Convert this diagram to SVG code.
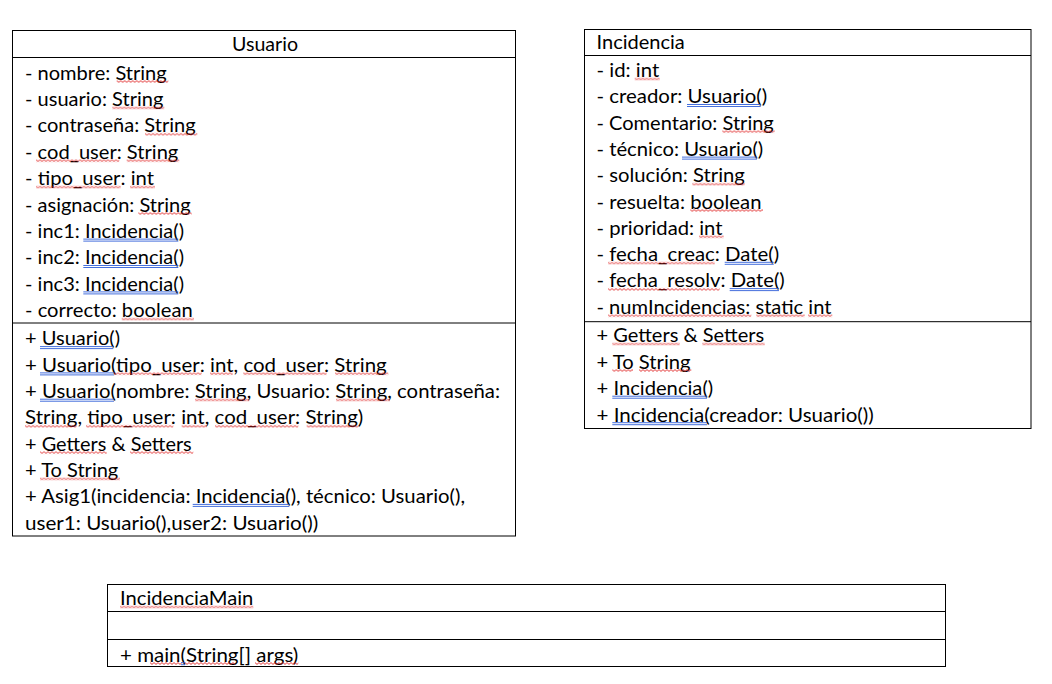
<svg xmlns="http://www.w3.org/2000/svg" width="1052" height="684" viewBox="0 0 1052 684">
<style>
text{font-family:Lato,"Liberation Sans",sans-serif;font-size:20px;fill:#000;lengthAdjust:spacingAndGlyphs}
.box{fill:#fff;stroke:#000;stroke-width:1}
.div{stroke:#000;stroke-width:1}
.sq{fill:url(#wave)}
.bl{fill:url(#dbl)}
</style>
<defs>
<pattern id="wave" patternUnits="userSpaceOnUse" width="4" height="3">
<path d="M0,0.6 L2,2.4 L4,0.6" fill="none" stroke="#e02424" stroke-width="0.9"/>
</pattern>
<pattern id="dbl" patternUnits="userSpaceOnUse" width="4" height="3">
<rect x="0" y="0" width="4" height="0.9" fill="#2f5fd8"/>
<rect x="0" y="2" width="4" height="0.9" fill="#2f5fd8"/>
</pattern>
</defs>
<rect width="1052" height="684" fill="#fff"/>
<g id="connectors"/>

<g id="usuario">
<rect class="box" x="12.5" y="30.5" width="503" height="505.5"/>
<line class="div" x1="12.5" y1="57.5" x2="515.5" y2="57.5"/>
<line class="div" x1="12.5" y1="323" x2="515.5" y2="323"/>
<text x="265" y="51.3" text-anchor="middle" textLength="66" lengthAdjust="spacingAndGlyphs">Usuario</text>
<text x="25" y="79.5" textLength="141.7" lengthAdjust="spacingAndGlyphs">- nombre: String</text>
<text x="25" y="105.9" textLength="138.3" lengthAdjust="spacingAndGlyphs">- usuario: String</text>
<text x="25" y="132.3" textLength="170.7" lengthAdjust="spacingAndGlyphs">- contraseña: String</text>
<text x="25" y="158.7" textLength="153.3" lengthAdjust="spacingAndGlyphs">- cod_user: String</text>
<text x="25" y="185.1" textLength="129" lengthAdjust="spacingAndGlyphs">- tipo_user: int</text>
<text x="25" y="211.5" textLength="165.7" lengthAdjust="spacingAndGlyphs">- asignación: String</text>
<text x="25" y="237.9" textLength="159" lengthAdjust="spacingAndGlyphs">- inc1: Incidencia()</text>
<text x="25" y="264.3" textLength="159" lengthAdjust="spacingAndGlyphs">- inc2: Incidencia()</text>
<text x="25" y="290.7" textLength="159" lengthAdjust="spacingAndGlyphs">- inc3: Incidencia()</text>
<text x="25" y="317.1" textLength="167.7" lengthAdjust="spacingAndGlyphs">- correcto: boolean</text>
<text x="25" y="345.4" textLength="95" lengthAdjust="spacingAndGlyphs">+ Usuario()</text>
<text x="25" y="371.7" textLength="361.7" lengthAdjust="spacingAndGlyphs">+ Usuario(tipo_user: int, cod_user: String</text>
<text x="25" y="398" textLength="475" lengthAdjust="spacingAndGlyphs">+ Usuario(nombre: String, Usuario: String, contraseña:</text>
<text x="25" y="424.3" textLength="338.3" lengthAdjust="spacingAndGlyphs">String, tipo_user: int, cod_user: String)</text>
<text x="25" y="450.6" textLength="166.7" lengthAdjust="spacingAndGlyphs">+ Getters &amp; Setters</text>
<text x="25" y="476.9" textLength="93.3" lengthAdjust="spacingAndGlyphs">+ To String</text>
<text x="25" y="503.2" textLength="440" lengthAdjust="spacingAndGlyphs">+ Asig1(incidencia: Incidencia(), técnico: Usuario(),</text>
<text x="25" y="529.5" textLength="293.3" lengthAdjust="spacingAndGlyphs">user1: Usuario(),user2: Usuario())</text>
<g id="usuario-marks">
<rect class="sq" transform="translate(116.7,80)" width="51.6" height="3"/>
<rect class="sq" transform="translate(112.3,106.4)" width="52" height="3"/>
<rect class="sq" transform="translate(145,132.8)" width="52.3" height="3"/>
<rect class="sq" transform="translate(36,159.2)" width="83.3" height="3"/>
<rect class="sq" transform="translate(126.7,159.2)" width="52.6" height="3"/>
<rect class="sq" transform="translate(36,185.6)" width="84.7" height="3"/>
<rect class="sq" transform="translate(130,185.6)" width="25" height="3"/>
<rect class="sq" transform="translate(138.3,212)" width="53.4" height="3"/>
<rect class="bl" transform="translate(83.3,238.6)" width="95" height="3"/>
<rect class="bl" transform="translate(83.3,265)" width="95" height="3"/>
<rect class="bl" transform="translate(83.3,291.4)" width="95" height="3"/>
<rect class="sq" transform="translate(121.7,317.6)" width="72.3" height="3"/>
<rect class="bl" transform="translate(40,346.1)" width="73.3" height="3"/>
<rect class="bl" transform="translate(40,372.4)" width="74" height="3"/>
<rect class="sq" transform="translate(114,372.2)" width="87.7" height="3"/>
<rect class="sq" transform="translate(210,372.2)" width="22.7" height="3"/>
<rect class="sq" transform="translate(243.3,372.2)" width="83.4" height="3"/>
<rect class="sq" transform="translate(335,372.2)" width="53.3" height="3"/>
<rect class="bl" transform="translate(40,398.7)" width="74" height="3"/>
<rect class="sq" transform="translate(195,398.5)" width="54.3" height="3"/>
<rect class="sq" transform="translate(336,398.5)" width="54" height="3"/>
<rect class="sq" transform="translate(25,424.8)" width="51.7" height="3"/>
<rect class="sq" transform="translate(86,424.8)" width="87.3" height="3"/>
<rect class="sq" transform="translate(181.7,424.8)" width="25" height="3"/>
<rect class="sq" transform="translate(215,424.8)" width="83.3" height="3"/>
<rect class="sq" transform="translate(306.7,424.8)" width="51.6" height="3"/>
<rect class="sq" transform="translate(40,451.1)" width="66.7" height="3"/>
<rect class="sq" transform="translate(130,451.1)" width="63.3" height="3"/>
<rect class="sq" transform="translate(40,477.4)" width="80" height="3"/>
<rect class="bl" transform="translate(192.7,503.9)" width="96.6" height="3"/>
</g>
</g>

<g id="incidencia">
<rect class="box" x="584.5" y="29.5" width="446.5" height="399"/>
<line class="div" x1="584.5" y1="55.5" x2="1031" y2="55.5"/>
<line class="div" x1="584.5" y1="321.7" x2="1031" y2="321.7"/>
<text x="596.5" y="49.3" textLength="88.3" lengthAdjust="spacingAndGlyphs">Incidencia</text>
<text x="596.5" y="77" textLength="62.7" lengthAdjust="spacingAndGlyphs">- id: int</text>
<text x="596.5" y="103.3" textLength="170.7" lengthAdjust="spacingAndGlyphs">- creador: Usuario()</text>
<text x="596.5" y="129.6" textLength="177.3" lengthAdjust="spacingAndGlyphs">- Comentario: String</text>
<text x="596.5" y="155.9" textLength="166.7" lengthAdjust="spacingAndGlyphs">- técnico: Usuario()</text>
<text x="596.5" y="182.2" textLength="148.3" lengthAdjust="spacingAndGlyphs">- solución: String</text>
<text x="596.5" y="208.5" textLength="165" lengthAdjust="spacingAndGlyphs">- resuelta: boolean</text>
<text x="596.5" y="234.8" textLength="126" lengthAdjust="spacingAndGlyphs">- prioridad: int</text>
<text x="596.5" y="261.1" textLength="182.7" lengthAdjust="spacingAndGlyphs">- fecha_creac: Date()</text>
<text x="596.5" y="287.4" textLength="188.3" lengthAdjust="spacingAndGlyphs">- fecha_resolv: Date()</text>
<text x="596.5" y="313.7" textLength="235" lengthAdjust="spacingAndGlyphs">- numIncidencias: static int</text>
<text x="596.5" y="342" textLength="167.7" lengthAdjust="spacingAndGlyphs">+ Getters &amp; Setters</text>
<text x="596.5" y="368.5" textLength="94" lengthAdjust="spacingAndGlyphs">+ To String</text>
<text x="596.5" y="395" textLength="116.7" lengthAdjust="spacingAndGlyphs">+ Incidencia()</text>
<text x="596.5" y="421.5" textLength="277.3" lengthAdjust="spacingAndGlyphs">+ Incidencia(creador: Usuario())</text>
<g id="incidencia-marks">
<rect class="sq" transform="translate(634.7,77.5)" width="25" height="3"/>
<rect class="bl" transform="translate(687,104)" width="73.7" height="3"/>
<rect class="sq" transform="translate(722.3,130.1)" width="52.4" height="3"/>
<rect class="bl" transform="translate(682,156.6)" width="75" height="3"/>
<rect class="sq" transform="translate(692.3,182.7)" width="52.4" height="3"/>
<rect class="sq" transform="translate(690.3,209)" width="72.7" height="3"/>
<rect class="sq" transform="translate(699,235.3)" width="24.7" height="3"/>
<rect class="sq" transform="translate(608,261.6)" width="106.7" height="3"/>
<rect class="bl" transform="translate(724.7,261.8)" width="49" height="3"/>
<rect class="sq" transform="translate(608,287.9)" width="111.7" height="3"/>
<rect class="bl" transform="translate(729.7,288.1)" width="49.3" height="3"/>
<rect class="sq" transform="translate(608,314.2)" width="143.3" height="3"/>
<rect class="sq" transform="translate(756.3,314.2)" width="48.4" height="3"/>
<rect class="sq" transform="translate(808,314.2)" width="24.3" height="3"/>
<rect class="sq" transform="translate(612.3,342.5)" width="67.4" height="3"/>
<rect class="sq" transform="translate(702.3,342.5)" width="62.4" height="3"/>
<rect class="sq" transform="translate(612.3,369)" width="20.7" height="3"/>
<rect class="sq" transform="translate(639,369)" width="52.3" height="3"/>
<rect class="bl" transform="translate(612.3,395.7)" width="94.7" height="3"/>
<rect class="bl" transform="translate(612.3,422.2)" width="94.7" height="3"/>
</g>
</g>

<g id="incidenciamain">
<rect class="box" x="107.5" y="584.5" width="838" height="82"/>
<line class="div" x1="107.5" y1="611.5" x2="945.5" y2="611.5"/>
<line class="div" x1="107.5" y1="639.5" x2="945.5" y2="639.5"/>
<text x="120" y="605" textLength="133.3" lengthAdjust="spacingAndGlyphs">IncidenciaMain</text>
<text x="120" y="661.5" textLength="178.3" lengthAdjust="spacingAndGlyphs">+ main(String[] args)</text>
<g id="main-marks">
<rect class="sq" transform="translate(120,605.5)" width="133.3" height="3"/>
<rect class="sq" transform="translate(150,662)" width="31.7" height="3"/>
<rect class="bl" transform="translate(181,662.2)" width="4" height="3"/>
<rect class="sq" transform="translate(185,662)" width="50" height="3"/>
<rect class="sq" transform="translate(255,662)" width="43.3" height="3"/>
</g>
</g>
</svg>
